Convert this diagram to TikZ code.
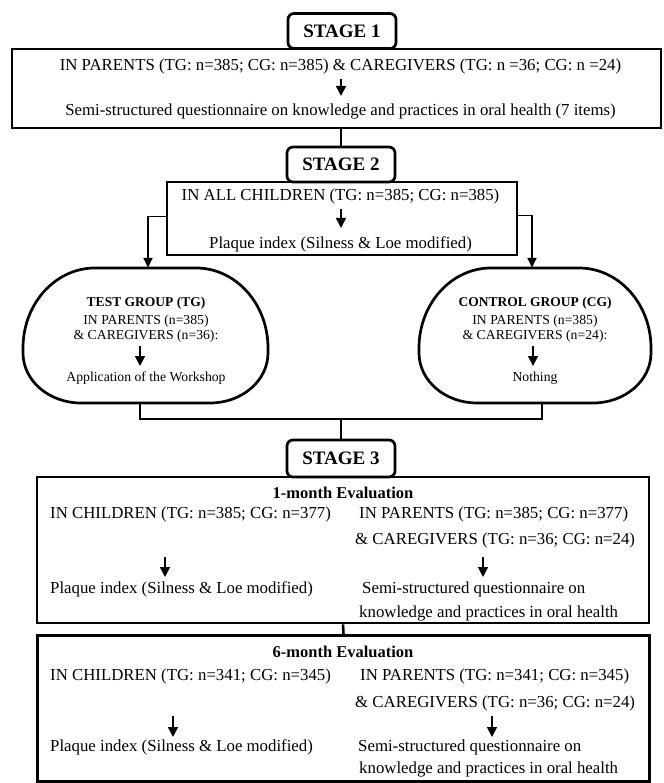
\documentclass[tikz,border=0pt]{standalone}
\usepackage{fontspec}
\setmainfont{Liberation Serif}
\usetikzlibrary{arrows.meta,calc}
\tikzset{
  frame/.style={draw, line width=2.7pt, inner sep=0pt},
  stagebox/.style={draw, line width=2.7pt, rounded corners=6pt, fill=white, inner sep=0pt,
    minimum width=108pt, font=\fontsize{19}{22}\selectfont\bfseries},
  grp/.style={inner sep=0pt},
  grpline/.style={line width=2.7pt},
  txt/.style={inner sep=0pt, font=\fontsize{16.8}{20}\selectfont},
  btxt/.style={inner sep=0pt, font=\fontsize{16.5}{20}\selectfont\bfseries},
  gtxt/.style={inner sep=0pt, font=\fontsize{13.7}{16}\selectfont},
  gbtxt/.style={inner sep=0pt, font=\fontsize{13.5}{16}\selectfont\bfseries},
  conn/.style={line width=2.6pt},
  connarr/.style={line width=1.8pt, -{Triangle[length=10pt,width=9pt]}},
  arr/.style={line width=1.6pt, -{Triangle[length=10pt,width=10pt]}},
}
% group outline with elliptic corners: left, top, right, bottom (picture units)
\newcommand\grpoutline[4]{%
  \draw[grpline]
    ({#1},{#2+80}) arc[start angle=180, end angle=270, x radius=72, y radius=80]
    -- ({#3-72},{#2}) arc[start angle=270, end angle=360, x radius=72, y radius=80]
    -- ({#3},{#4-50}) arc[start angle=0, end angle=90, x radius=58, y radius=50]
    -- ({#1+58},{#4}) arc[start angle=90, end angle=180, x radius=58, y radius=50]
    -- cycle;}
\begin{document}
\begin{tikzpicture}[x=1pt,y=-1pt]
\useasboundingbox (0,0) rectangle (663,783);
% ---------- STAGE 1 ----------
\node[frame, minimum width=649pt, minimum height=79pt] (box1) at (336.5,88.5) {};
\node[stagebox, minimum height=35pt] (s1) at (342,31) {STAGE 1};
\node[txt, anchor=base] (t1a) at (340.5,70.5) {IN PARENTS (TG: n=385; CG: n=385) \& CAREGIVERS (TG: n =36; CG: n =24)};
\node[txt, anchor=base] (t1b) at (340.5,115.5) {Semi-structured questionnaire on knowledge and practices in oral health (7 items)};
\coordinate (a1s) at (341,79); \coordinate (a1e) at (341,96);
\draw[arr] (a1s) -- (a1e);
% ---------- STAGE 2 ----------
\node[frame, minimum width=350pt, minimum height=73pt] (box2) at (342,218.5) {};
\node[stagebox, minimum height=35pt] (s2) at (341,164.5) {STAGE 2};
\draw[conn] (box1.south -| s2.north) -- (s2.north);
\node[txt, anchor=base] (t2a) at (340.5,200.5) {IN ALL CHILDREN (TG: n=385; CG: n=385)};
\node[txt, anchor=base] (t2b) at (340.5,248) {Plaque index (Silness \& Loe modified)};
\coordinate (a2s) at (341,209); \coordinate (a2e) at (341,228);
\draw[arr] (a2s) -- (a2e);
% ---------- groups ----------
\node[grp, minimum width=245pt, minimum height=135pt] (tg) at (145.5,335.5) {};
\node[grp, minimum width=232pt, minimum height=135pt] (cg) at (535,335.5) {};
\grpoutline{23}{268}{268}{403}
\grpoutline{419}{268}{651}{403}
\draw[connarr] ([yshift=2pt]box2.west) -| ([xshift=2.5pt]tg.north);
\draw[connarr] ([yshift=3pt]box2.east) -| ([xshift=-3pt]cg.north);
\node[gbtxt, anchor=base] (tgh) at (146,306) {TEST GROUP (TG)};
\node[gtxt, anchor=base] (tgp) at (146,324) {IN PARENTS (n=385)};
\node[gtxt, anchor=base] (tgc) at (146,339) {\& CAREGIVERS (n=36):};
\node[gtxt, anchor=base] (tga) at (146,381) {Application of the Workshop};
\coordinate (a3s) at (140,346); \coordinate (a3e) at (140,366);
\draw[arr] (a3s) -- (a3e);
\node[gbtxt, anchor=base] (cgh) at (535,306) {CONTROL GROUP (CG)};
\node[gtxt, anchor=base] (cgp) at (535,324) {IN PARENTS (n=385)};
\node[gtxt, anchor=base] (cgc) at (535,339) {\& CAREGIVERS (n=24):};
\node[gtxt, anchor=base] (cga) at (535,381) {Nothing};
\coordinate (a4s) at (533,346); \coordinate (a4e) at (533,366);
\draw[arr] (a4s) -- (a4e);
% ---------- STAGE 3 ----------
\coordinate (jn) at (341,419);
\node[frame, minimum width=612pt, minimum height=146pt] (box3) at (343,550) {};
\node[stagebox, minimum height=37pt] (s3) at (341,458.5) {STAGE 3};
\draw[conn] ([xshift=-5.5pt]tg.south) |- (jn) -| ([xshift=7pt]cg.south);
\draw[conn] (jn) -- (s3.north);
\node[btxt, anchor=base] (m1) at (343,498.5) {1-month Evaluation};
\node[txt, anchor=base west] (m1c) at (50,518.5) {IN CHILDREN (TG: n=385; CG: n=377)};
\node[txt, anchor=base west] (m1p) at (359,518.5) {IN PARENTS (TG: n=385; CG: n=377)};
\node[txt, anchor=base west] (m1g) at (355,544.5) {\& CAREGIVERS (TG: n=36; CG: n=24)};
\coordinate (a5s) at (165,557); \coordinate (a5e) at (165,577);
\draw[arr] (a5s) -- (a5e);
\coordinate (a6s) at (483,557); \coordinate (a6e) at (483,577);
\draw[arr] (a6s) -- (a6e);
\node[txt, anchor=base west] (m1x) at (50,593.5) {Plaque index (Silness \& Loe modified)};
\node[txt, anchor=base west] (m1q) at (362,593.5) {Semi-structured questionnaire on};
\node[txt, anchor=base west] (m1k) at (359,617) {knowledge and practices in oral health};
% ---------- 6-month ----------
\node[frame, minimum width=612pt, minimum height=146pt] (box4) at (343.5,708.5) {};
\draw[conn] (box3.south) -- (box4.north);
\node[btxt, anchor=base] (m6) at (343,657.5) {6-month Evaluation};
\node[txt, anchor=base west] (m6c) at (50,680) {IN CHILDREN (TG: n=341; CG: n=345)};
\node[txt, anchor=base west] (m6p) at (360,680) {IN PARENTS (TG: n=341; CG: n=345)};
\node[txt, anchor=base west] (m6g) at (355,707.5) {\& CAREGIVERS (TG: n=36; CG: n=24)};
\coordinate (a7s) at (173,716); \coordinate (a7e) at (173,737);
\draw[arr] (a7s) -- (a7e);
\coordinate (a8s) at (492,716); \coordinate (a8e) at (492,737);
\draw[arr] (a8s) -- (a8e);
\node[txt, anchor=base west] (m6x) at (50,751.5) {Plaque index (Silness \& Loe modified)};
\node[txt, anchor=base west] (m6q) at (358,751.5) {Semi-structured questionnaire on};
\node[txt, anchor=base west] (m6k) at (359,773) {knowledge and practices in oral health};
\end{tikzpicture}
\end{document}
